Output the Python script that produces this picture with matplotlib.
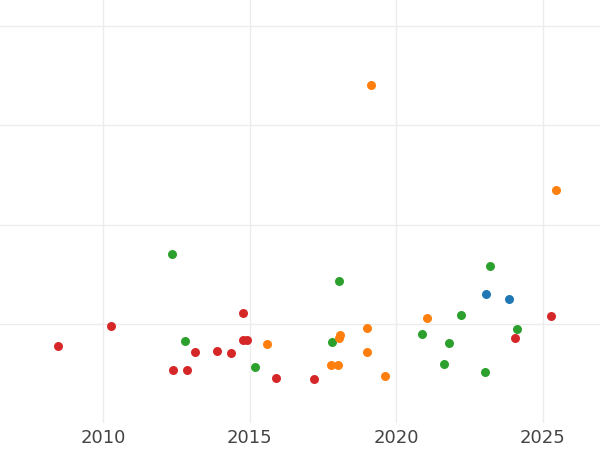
import matplotlib
matplotlib.use("Agg")
import matplotlib.pyplot as plt

# year, value per series (values in gridline units)
red_x = [2008.46, 2010.26, 2012.38, 2012.86, 2013.13, 2013.88, 2014.36, 2014.77, 2014.77, 2014.90, 2015.89, 2017.19, 2024.07, 2025.30]
red_y = [0.78, 0.98, 0.54, 0.54, 0.72, 0.73, 0.71, 1.12, 0.84, 0.84, 0.46, 0.45, 0.86, 1.09]
green_x = [2012.34, 2012.79, 2015.17, 2017.80, 2018.04, 2020.87, 2021.62, 2021.82, 2022.20, 2023.02, 2023.19, 2024.14]
green_y = [1.71, 0.83, 0.57, 0.82, 1.44, 0.90, 0.60, 0.81, 1.10, 0.52, 1.59, 0.95]
orange_x = [2019.16, 2025.47, 2015.58, 2017.77, 2018.00, 2018.04, 2018.07, 2018.99, 2018.99, 2019.61, 2021.04]
orange_y = [3.41, 2.35, 0.80, 0.59, 0.59, 0.86, 0.89, 0.96, 0.72, 0.48, 1.06]
blue_x = [2023.08, 2023.87]
blue_y = [1.31, 1.26]

fig = plt.figure(figsize=(6, 4.5), dpi=100)
ax = fig.add_axes([0, 0.06, 1, 0.94])
for xs, ys, c in [(red_x, red_y, "#d62728"), (green_x, green_y, "#2ca02c"),
                  (orange_x, orange_y, "#ff7f0e"), (blue_x, blue_y, "#1f77b4")]:
    ax.scatter(xs, ys, s=42, color=c, zorder=3, linewidths=0)

ax.set_xlim(2006.48, 2026.96)
ax.set_ylim(0.01, 4.26)
ax.set_xticks([2010, 2015, 2020, 2025])
ax.set_yticks([1, 2, 3, 4])
ax.set_yticklabels([])
ax.grid(True, color="#ececec", linewidth=1)
ax.tick_params(length=0, labelsize=13, labelcolor="#444444", pad=4)
ax.tick_params(axis="y", left=False)
for s in ax.spines.values():
    s.set_visible(False)
fig.savefig("out.png", dpi=100)
